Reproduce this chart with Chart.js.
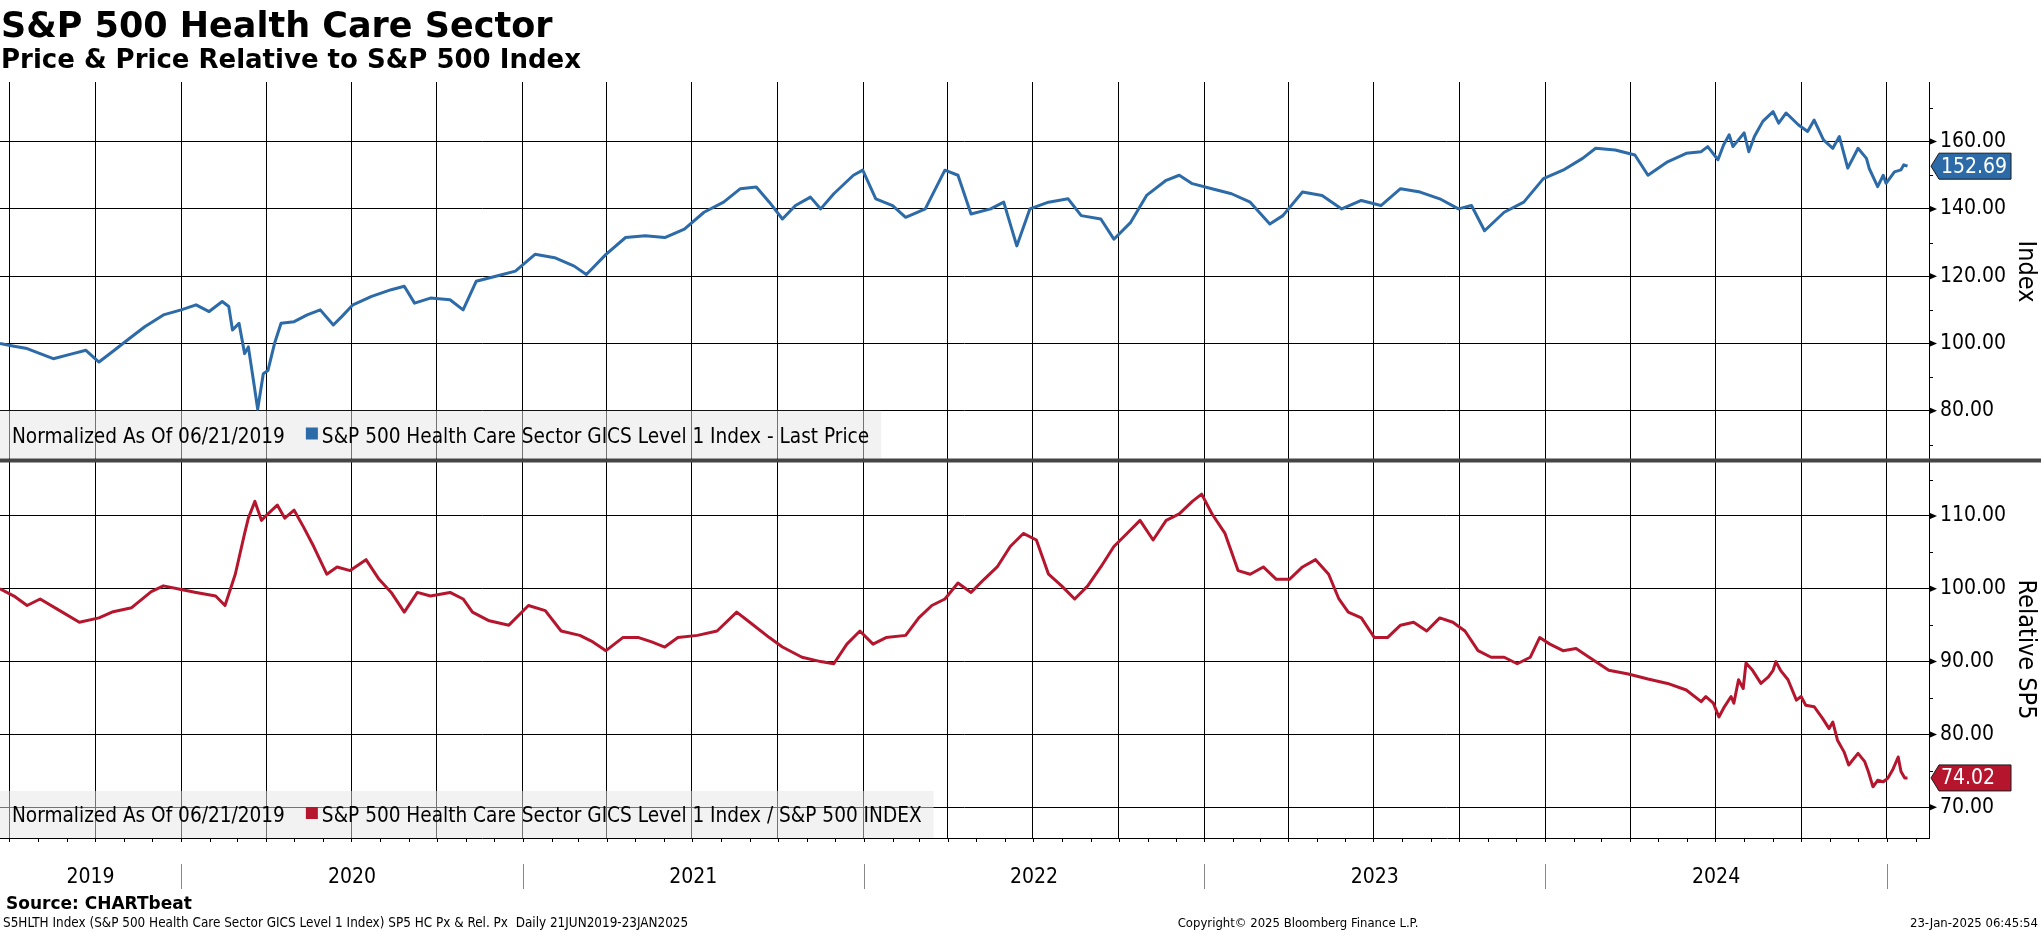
<!DOCTYPE html>
<html lang="en">
<head>
<meta charset="UTF-8">
<title>S&amp;P 500 Health Care Sector</title>
<script src="https://cdn.jsdelivr.net/npm/chart.js@4.4.1/dist/chart.umd.min.js"></script>
<style>
  html, body { margin: 0; padding: 0; background: #fff; overflow: hidden; }
  #chart { display: block; }
</style>
</head>
<body>
<canvas id="chart" width="2041" height="932"></canvas>
<script>
// price series, normalized to 100 on 06/21/2019
const priceDates = [
  '2019-06-21','2019-07-06','2019-07-20','2019-08-03','2019-08-17','2019-09-07','2019-09-21','2019-10-05','2019-10-19','2019-11-09',
  '2019-11-23','2019-12-13','2020-01-01','2020-01-17','2020-01-31','2020-02-14','2020-02-21','2020-02-25','2020-03-03','2020-03-09',
  '2020-03-13','2020-03-19','2020-03-23','2020-03-29','2020-04-03','2020-04-10','2020-04-17','2020-05-01','2020-05-15','2020-05-29',
  '2020-06-12','2020-06-21','2020-07-03','2020-07-23','2020-08-13','2020-08-27','2020-09-07','2020-09-24','2020-10-15','2020-10-29',
  '2020-11-12','2020-12-03','2020-12-24','2021-01-14','2021-02-04','2021-02-25','2021-03-10','2021-03-31','2021-04-21','2021-05-12',
  '2021-06-02','2021-06-23','2021-07-14','2021-08-04','2021-08-22','2021-09-08','2021-09-22','2021-10-06','2021-10-20','2021-11-05',
  '2021-11-16','2021-11-30','2021-12-21','2021-12-31','2022-01-14','2022-02-01','2022-02-15','2022-03-08','2022-03-29','2022-04-12',
  '2022-04-26','2022-05-17','2022-05-31','2022-06-14','2022-06-28','2022-07-18','2022-08-08','2022-08-22','2022-09-12','2022-09-26',
  '2022-10-14','2022-10-31','2022-11-21','2022-12-05','2022-12-19','2023-01-09','2023-01-30','2023-02-19','2023-03-12','2023-03-26',
  '2023-04-16','2023-05-07','2023-05-28','2023-06-18','2023-07-09','2023-07-30','2023-08-20','2023-09-10','2023-09-30','2023-10-14',
  '2023-10-28','2023-11-18','2023-12-09','2023-12-30','2024-01-20','2024-02-10','2024-02-24','2024-03-16','2024-04-06','2024-04-20',
  '2024-05-11','2024-05-31','2024-06-16','2024-06-23','2024-07-04','2024-07-10','2024-07-16','2024-07-20','2024-08-01','2024-08-06',
  '2024-08-12','2024-08-21','2024-09-01','2024-09-07','2024-09-15','2024-09-28','2024-10-08','2024-10-15','2024-10-25','2024-11-04',
  '2024-11-11','2024-11-20','2024-12-01','2024-12-10','2024-12-13','2024-12-22','2024-12-28','2024-12-31','2025-01-09','2025-01-16',
  '2025-01-19','2025-01-23'
];
const priceValues = [
  100, 99.2, 98.5, 97, 95.5, 97, 98, 94.5, 97.5, 102,
  105, 108.5, 110, 111.5, 109.5, 112.5, 111, 104, 106, 97,
  99, 88, 80.5, 91, 92, 100, 106, 106.5, 108.5, 110,
  105.5, 108, 111.5, 114, 116, 117, 112, 113.5, 113, 110,
  118.5, 120, 121.5, 126.5, 125.5, 123, 120.5, 126.5, 131.5, 132,
  131.5, 134, 139, 142, 146, 146.5, 142, 137, 141, 143.5,
  140, 144.5, 150, 151.5, 143, 141, 137.5, 140, 151.5, 150,
  138.5, 140, 142, 129, 140, 142, 143, 138, 137, 131,
  136, 144, 148.5, 150, 147.5, 146, 144.5, 142, 135.5, 138,
  145, 144, 140, 142.5, 141, 146, 145, 143, 140, 141,
  133.5, 139, 142, 149, 151.5, 155, 158, 157.5, 156, 150,
  154, 156.5, 157, 158.5, 154.6, 159, 162, 158.5, 162.6, 157,
  161.5, 166, 168.9, 165.5, 168.5, 165, 163, 166.4, 160.5, 158,
  161.5, 152.1, 158, 155, 152, 146.6, 150, 147.6, 151, 151.6,
  153.1, 152.69
];

// price relative to the S&P 500, normalized to 100 on 06/21/2019
const relDates = [
  '2019-06-21','2019-07-06','2019-07-20','2019-08-03','2019-08-24','2019-09-14','2019-10-05','2019-10-19','2019-11-09','2019-11-30',
  '2019-12-13','2020-01-01','2020-01-17','2020-02-07','2020-02-17','2020-02-28','2020-03-09','2020-03-13','2020-03-20','2020-03-27',
  '2020-04-03','2020-04-13','2020-04-21','2020-05-01','2020-05-11','2020-05-22','2020-06-05','2020-06-16','2020-06-30','2020-07-17',
  '2020-07-31','2020-08-13','2020-08-27','2020-09-10','2020-09-24','2020-10-15','2020-10-29','2020-11-08','2020-11-26','2020-12-17',
  '2021-01-07','2021-01-25','2021-02-11','2021-03-03','2021-03-17','2021-03-31','2021-04-18','2021-05-05','2021-05-19','2021-06-02',
  '2021-06-16','2021-07-07','2021-07-28','2021-08-18','2021-09-01','2021-09-22','2021-10-06','2021-10-27','2021-11-16','2021-11-30',
  '2021-12-14','2021-12-28','2022-01-11','2022-01-25','2022-02-15','2022-03-01','2022-03-15','2022-03-29','2022-04-12','2022-04-26',
  '2022-05-10','2022-05-24','2022-06-07','2022-06-21','2022-07-05','2022-07-18','2022-08-01','2022-08-15','2022-08-29','2022-09-12',
  '2022-09-26','2022-10-10','2022-10-24','2022-11-07','2022-11-21','2022-12-05','2022-12-19','2022-12-29','2023-01-09','2023-01-23',
  '2023-02-06','2023-02-19','2023-03-05','2023-03-19','2023-04-02','2023-04-16','2023-04-30','2023-05-14','2023-05-25','2023-06-04',
  '2023-06-18','2023-07-02','2023-07-16','2023-07-30','2023-08-13','2023-08-27','2023-09-10','2023-09-24','2023-10-07','2023-10-21',
  '2023-11-04','2023-11-18','2023-12-02','2023-12-16','2023-12-26','2024-01-06','2024-01-20','2024-02-03','2024-02-17','2024-03-09',
  '2024-03-30','2024-04-20','2024-05-11','2024-05-31','2024-06-16','2024-06-21','2024-06-29','2024-07-05','2024-07-10','2024-07-18',
  '2024-07-21','2024-07-26','2024-07-31','2024-08-03','2024-08-10','2024-08-19','2024-08-27','2024-09-01','2024-09-04','2024-09-09',
  '2024-09-17','2024-09-26','2024-10-01','2024-10-06','2024-10-15','2024-10-24','2024-10-31','2024-11-04','2024-11-09','2024-11-16',
  '2024-11-21','2024-12-01','2024-12-08','2024-12-12','2024-12-17','2024-12-22','2024-12-28','2025-01-02','2025-01-07','2025-01-13',
  '2025-01-16','2025-01-20','2025-01-23'
];
const relValues = [
  100, 99, 97.7, 98.6, 97, 95.4, 96, 96.8, 97.4, 99.6,
  100.4, 99.9, 99.5, 99, 97.7, 102, 107.6, 109.7, 112, 109.4,
  110.3, 111.5, 109.7, 110.8, 108.5, 105.8, 102, 103, 102.5, 104,
  101.3, 99.5, 96.8, 99.5, 99, 99.5, 98.6, 96.8, 95.6, 95,
  97.7, 97, 94.2, 93.6, 92.7, 91.5, 93.3, 93.3, 92.7, 92,
  93.3, 93.6, 94.2, 96.8, 95.4, 93.3, 92, 90.6, 90, 89.7,
  92.4, 94.2, 92.4, 93.3, 93.6, 96, 97.7, 98.6, 100.8, 99.5,
  101.3, 103, 105.8, 107.6, 106.7, 102, 100.4, 98.6, 100.4, 103,
  105.8, 107.6, 109.4, 106.7, 109.4, 110.3, 112, 113, 110.3, 107.6,
  102.5, 102, 103, 101.3, 101.3, 103, 104, 102, 98.6, 96.8,
  96, 93.3, 93.3, 95, 95.4, 94.2, 96, 95.4, 94.2, 91.5,
  90.6, 90.6, 89.7, 90.6, 93.3, 92.4, 91.5, 91.8, 90.6, 88.8,
  88.3, 87.6, 87, 86.1, 84.5, 85.2, 84.3, 82.4, 83.6, 85.2,
  84.3, 87.5, 86.3, 89.8, 88.8, 87, 87.9, 88.8, 90, 88.8,
  87.5, 84.7, 85.2, 84, 83.8, 82.2, 80.8, 81.7, 79.2, 77.6,
  75.8, 77.4, 76.3, 74.9, 72.8, 73.7, 73.5, 74, 75.1, 76.9,
  74.9, 74, 74.02
];

const priceTicks = [80, 100, 120, 140, 160];
const priceMinorTicks = [70, 90, 110, 130, 150, 170];
const relTicks = [70, 80, 90, 100, 110];
const relMinorTicks = [75, 85, 95, 105, 115];
const yearLabels = ['2019', '2020', '2021', '2022', '2023', '2024'];

const BLUE = '#2c6aa8';
const RED = '#b5162e';
const LABEL_FONT = '"DejaVu Sans Condensed", "Liberation Sans", Arial, sans-serif';
const TITLE_FONT = '"DejaVu Sans", Verdana, sans-serif';

const START = Date.UTC(2019, 5, 21);
function dayOf(s) {
  const [y, m, d] = s.split('-').map(Number);
  return (Date.UTC(y, m - 1, d) - START) / 86400000;
}
function dayOfYm(y, m) {
  return (Date.UTC(y, m, 1) - START) / 86400000;
}
const X_MIN = 0;
const X_MAX = 2066;

const quarterDays = [];
const monthDays = [];
const yearStarts = [];
for (let y = 2019; y <= 2025; y++) {
  for (let m = 0; m < 12; m++) {
    const d = dayOfYm(y, m);
    if (d < X_MIN || d > X_MAX) continue;
    monthDays.push(d);
    if (m % 3 === 0) quarterDays.push(d);
    if (m === 0) yearStarts.push(d);
  }
}

const pricePoints = priceDates.map((s, i) => ({ x: dayOf(s), y: priceValues[i] }));
const relPoints = relDates.map((s, i) => ({ x: dayOf(s), y: relValues[i] }));

function valueTag(ctx, x, y, text, color) {
  ctx.save();
  ctx.beginPath();
  ctx.moveTo(x + 2, y);
  ctx.lineTo(x + 10, y - 13);
  ctx.lineTo(2011, y - 13);
  ctx.lineTo(2011, y + 13);
  ctx.lineTo(x + 10, y + 13);
  ctx.closePath();
  ctx.fillStyle = color;
  ctx.fill();
  ctx.strokeStyle = '#1b1b1b';
  ctx.lineWidth = 1;
  ctx.stroke();
  ctx.fillStyle = '#fff';
  ctx.font = '21px ' + LABEL_FONT;
  ctx.textBaseline = 'middle';
  ctx.textAlign = 'left';
  ctx.fillText(text, x + 12, y + 1);
  ctx.restore();
}

function legendBox(ctx, top, bottom, label, color) {
  ctx.save();
  ctx.font = '20.6px ' + LABEL_FONT;
  const first = 'Normalized As Of 06/21/2019';
  const w1 = ctx.measureText(first).width;
  const sq = 12 + w1 + 21;
  const tx = sq + 16;
  const w2 = ctx.measureText(label).width;
  const right = tx + w2 + 12;
  ctx.fillStyle = 'rgba(230,230,230,0.5)';
  ctx.fillRect(0, top, right, bottom - top);
  ctx.fillStyle = '#000';
  ctx.textBaseline = 'alphabetic';
  const base = bottom - 16;
  ctx.fillText(first, 12, base);
  ctx.fillText(label, tx, base);
  ctx.fillStyle = color;
  ctx.fillRect(sq, base - 15, 12, 12);
  ctx.restore();
}

const decor = {
  id: 'decor',
  beforeDraw(chart) {
    const ctx = chart.ctx;
    ctx.save();
    ctx.fillStyle = '#fff';
    ctx.fillRect(0, 0, chart.width, chart.height);
    ctx.restore();
  },
  afterDatasetsDraw(chart) {
    const ctx = chart.ctx;
    const area = chart.chartArea;
    const x = chart.scales.x;
    const yP = chart.scales.yPrice;
    const yR = chart.scales.yRel;

    legendBox(ctx, yP.getPixelForValue(80), yP.bottom - 2.5,
      'S&P 500 Health Care Sector GICS Level 1 Index - Last Price', BLUE);
    legendBox(ctx, area.bottom - 47, area.bottom,
      'S&P 500 Health Care Sector GICS Level 1 Index / S&P 500 INDEX', RED);

    ctx.save();
    // panel separator
    ctx.fillStyle = '#454545';
    ctx.fillRect(0, yP.bottom - 2.5, chart.width, 4);

    // monthly ticks under the time axis
    ctx.strokeStyle = '#000';
    ctx.lineWidth = 1;
    ctx.beginPath();
    monthDays.forEach(d => {
      const px = Math.round(x.getPixelForValue(d)) + 0.5;
      ctx.moveTo(px, area.bottom);
      ctx.lineTo(px, area.bottom + 4);
    });
    // minor ticks on the right axes
    const axisX = area.right;
    priceMinorTicks.forEach(v => {
      const py = Math.round(yP.getPixelForValue(v)) + 0.5;
      ctx.moveTo(axisX, py);
      ctx.lineTo(axisX + 4, py);
    });
    relMinorTicks.forEach(v => {
      const py = Math.round(yR.getPixelForValue(v)) + 0.5;
      ctx.moveTo(axisX, py);
      ctx.lineTo(axisX + 4, py);
    });
    ctx.stroke();

    // arrow heads on major ticks
    ctx.fillStyle = '#000';
    const arrows = priceTicks.map(v => yP.getPixelForValue(v))
      .concat(relTicks.map(v => yR.getPixelForValue(v)));
    arrows.forEach(py => {
      ctx.beginPath();
      ctx.moveTo(axisX, py - 3.5);
      ctx.lineTo(axisX + 8, py);
      ctx.lineTo(axisX, py + 3.5);
      ctx.closePath();
      ctx.fill();
    });

    // year separators and labels
    ctx.strokeStyle = '#888';
    ctx.beginPath();
    yearStarts.forEach(d => {
      const px = Math.round(x.getPixelForValue(d)) + 0.5;
      ctx.moveTo(px, 864);
      ctx.lineTo(px, 889);
    });
    ctx.stroke();
    ctx.fillStyle = '#000';
    ctx.font = '21px ' + LABEL_FONT;
    ctx.textAlign = 'center';
    ctx.textBaseline = 'middle';
    const bounds = [area.left].concat(yearStarts.map(d => x.getPixelForValue(d)));
    yearLabels.forEach((lab, i) => {
      ctx.fillText(lab, (bounds[i] + bounds[i + 1]) / 2, 878);
    });

    // axis titles
    ctx.font = '25px ' + LABEL_FONT;
    [[yP, 'Index'], [yR, 'Relative SP5']].forEach(([s, t]) => {
      ctx.save();
      ctx.translate(2025, (s.top + s.bottom) / 2);
      ctx.rotate(Math.PI / 2);
      ctx.textAlign = 'center';
      ctx.textBaseline = 'middle';
      ctx.fillText(t, 0, 0);
      ctx.restore();
    });
    ctx.restore();

    // last value tags
    const lastP = priceValues[priceValues.length - 1];
    const lastR = relValues[relValues.length - 1];
    valueTag(ctx, axisX, yP.getPixelForValue(lastP), lastP.toFixed(2), BLUE);
    valueTag(ctx, axisX, yR.getPixelForValue(lastR), lastR.toFixed(2), RED);

    // titles and footer
    ctx.save();
    ctx.fillStyle = '#000';
    ctx.textBaseline = 'alphabetic';
    ctx.textAlign = 'left';
    ctx.font = 'bold 35px ' + TITLE_FONT;
    ctx.fillText('S&P 500 Health Care Sector', 1, 37);
    ctx.font = 'bold 26px ' + TITLE_FONT;
    ctx.fillText('Price & Price Relative to S&P 500 Index', 1, 68);
    ctx.font = 'bold 17px ' + TITLE_FONT;
    ctx.fillText('Source: CHARTbeat', 6, 909);
    ctx.font = '13.4px ' + LABEL_FONT;
    ctx.fillText('S5HLTH Index (S&P 500 Health Care Sector GICS Level 1 Index) SP5 HC Px & Rel. Px  Daily 21JUN2019-23JAN2025', 3, 927);
    ctx.font = '13px ' + LABEL_FONT;
    ctx.textAlign = 'center';
    ctx.fillText('Copyright\u00A9 2025 Bloomberg Finance L.P.', 1298, 927);
    ctx.textAlign = 'right';
    ctx.fillText('23-Jan-2025 06:45:54', 2038, 927);
    ctx.restore();
  }
};

const tickFmt = v => Number(v).toFixed(2);

new Chart(document.getElementById('chart').getContext('2d'), {
  type: 'line',
  data: {
    datasets: [
      {
        label: 'S&P 500 Health Care Sector GICS Level 1 Index - Last Price',
        data: pricePoints,
        yAxisID: 'yPrice',
        borderColor: BLUE,
        borderWidth: 3,
        pointRadius: 0,
        tension: 0,
        borderJoinStyle: 'round'
      },
      {
        label: 'S&P 500 Health Care Sector GICS Level 1 Index / S&P 500 INDEX',
        data: relPoints,
        yAxisID: 'yRel',
        borderColor: RED,
        borderWidth: 3,
        pointRadius: 0,
        tension: 0,
        borderJoinStyle: 'round'
      }
    ]
  },
  options: {
    responsive: false,
    animation: false,
    devicePixelRatio: 1,
    layout: { padding: { top: 82, left: 0, right: 0, bottom: 94 } },
    plugins: { legend: { display: false }, tooltip: { enabled: false } },
    scales: {
      x: {
        type: 'linear',
        min: X_MIN,
        max: X_MAX,
        ticks: { display: false },
        grid: { color: '#000', lineWidth: 1, drawTicks: false },
        border: { display: true, color: '#000', width: 1 },
        afterBuildTicks: s => { s.ticks = quarterDays.map(v => ({ value: v })); },
        afterFit: s => { s.height = 0; }
      },
      yPrice: {
        type: 'linear',
        position: 'right',
        stack: 'panels',
        stackWeight: 379,
        weight: 1,
        min: 65.1,
        max: 177.7,
        ticks: { color: '#000', padding: 11, autoSkip: false, font: { family: LABEL_FONT, size: 21 }, callback: tickFmt },
        grid: { color: '#000', lineWidth: 1, drawTicks: false },
        border: { display: true, color: '#000', width: 1 },
        afterBuildTicks: s => { s.ticks = priceTicks.map(v => ({ value: v })); },
        afterFit: s => { s.width = 112; }
      },
      yRel: {
        type: 'linear',
        position: 'right',
        stack: 'panels',
        stackWeight: 377,
        weight: 2,
        min: 65.77,
        max: 117.55,
        ticks: { color: '#000', padding: 11, autoSkip: false, font: { family: LABEL_FONT, size: 21 }, callback: tickFmt },
        grid: { color: '#000', lineWidth: 1, drawTicks: false },
        border: { display: true, color: '#000', width: 1 },
        afterBuildTicks: s => { s.ticks = relTicks.map(v => ({ value: v })); },
        afterFit: s => { s.width = 112; }
      }
    }
  },
  plugins: [decor]
});
</script>
</body>
</html>
